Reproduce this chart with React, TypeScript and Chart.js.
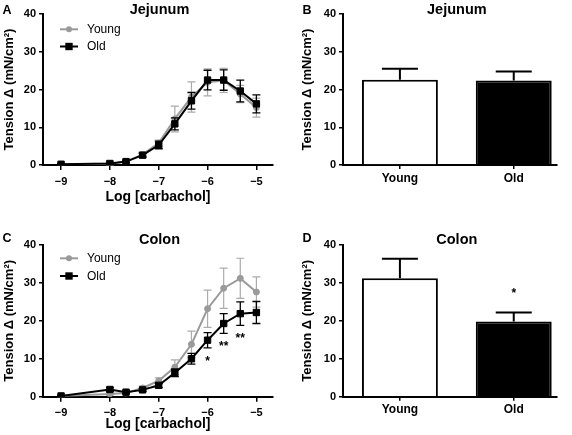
import React, { useEffect, useRef } from "react";
import { Chart, registerables } from "chart.js";
Chart.register(...registerables);

// ---------- data ----------
const logConc = [-9, -8, -7.67, -7.33, -7, -6.67, -6.33, -6, -5.67, -5.33, -5];
const xTicks = [-9, -8, -7, -6, -5];
const yTicks = [0, 10, 20, 30, 40];
const seriesNames = ["Young", "Old"];

const jejYoung = [0.2, 0.3, 0.9, 2.8, 5.8, 12.2, 18.0, 21.9, 22.4, 18.8, 15.2];
const jejYoungErr = [0.2, 0.3, 0.3, 0.6, 0.8, 3.4, 4.0, 3.6, 3.2, 2.3, 2.5];
const jejOld = [0.2, 0.4, 0.9, 2.6, 5.3, 10.9, 17.0, 22.5, 22.5, 19.6, 16.2];
const jejOldErr = [0.2, 0.3, 0.3, 0.5, 1.0, 1.6, 2.2, 2.6, 2.7, 2.9, 2.4];

const colYoung = [0.2, 0.7, 1.0, 2.3, 4.2, 7.8, 13.8, 23.2, 28.6, 31.2, 27.6];
const colYoungErr = [0.2, 0.3, 0.3, 0.5, 0.8, 1.9, 3.5, 4.9, 5.3, 5.3, 4.0];
const colOld = [0.2, 1.9, 1.2, 1.8, 3.0, 6.3, 10.0, 14.9, 19.3, 21.9, 22.2];
const colOldErr = [0.2, 0.5, 0.3, 0.4, 0.6, 1.0, 1.4, 2.0, 2.6, 3.1, 2.9];
const colSig = ["", "", "", "", "", "", "", "*", "**", "**", ""];

const barGroups = ["Young", "Old"];
const jejBar = [22.6, 22.4];
const jejBarErr = [2.9, 2.4];
const colBar = [31.2, 19.8];
const colBarErr = [5.2, 2.4];
const colBarSig = ["", "*"];

// ---------- styling ----------
const FONT = "'Liberation Sans', Arial, Helvetica, sans-serif";
const GREY = "#9a9a9a";
const GREY_ERR = "#ababab";
const Y_TITLE = "Tension \u0394 (mN/cm\u00B2)";

const fmtNum = (v: number) => (v < 0 ? "\u2212" + Math.abs(v) : String(v));

const decoPlugin: any = {
  id: "deco",
  beforeDatasetDraw(chart: any, args: any) {
    const ds: any = chart.data.datasets[args.index];
    if (!ds.errors) return;
    const ctx = chart.ctx;
    const ys = chart.scales.y;
    ctx.save();
    ctx.strokeStyle = ds.errColor;
    ctx.lineWidth = ds.errWidth;
    args.meta.data.forEach((el: any, i: number) => {
      const d = ds.data[i];
      const v = typeof d === "number" ? d : d.y;
      const e = ds.errors[i];
      const yTop = ys.getPixelForValue(v + e);
      const yBot = ys.getPixelForValue(ds.errUpOnly ? v : v - e);
      const x = el.x;
      const c = ds.errCap;
      ctx.beginPath();
      ctx.moveTo(x, yTop);
      ctx.lineTo(x, yBot);
      ctx.moveTo(x - c, yTop);
      ctx.lineTo(x + c, yTop);
      if (!ds.errUpOnly) {
        ctx.moveTo(x - c, yBot);
        ctx.lineTo(x + c, yBot);
      }
      ctx.stroke();
    });
    ctx.restore();
  },
  afterDatasetsDraw(chart: any, _a: any, opts: any) {
    const sig = opts.sig;
    if (!sig) return;
    const ctx = chart.ctx;
    const ds: any = chart.data.datasets[sig.dataset];
    const meta = chart.getDatasetMeta(sig.dataset);
    const ys = chart.scales.y;
    ctx.save();
    ctx.fillStyle = "#000";
    ctx.font = `bold 12px ${FONT}`;
    ctx.textAlign = "center";
    ctx.textBaseline = "alphabetic";
    sig.labels.forEach((lab: string, i: number) => {
      if (!lab) return;
      const d = ds.data[i];
      const v = typeof d === "number" ? d : d.y;
      const e = ds.errors[i];
      const el = meta.data[i];
      const y = sig.below
        ? ys.getPixelForValue(v - e) + sig.offset
        : ys.getPixelForValue(v + e) - sig.offset;
      ctx.fillText(lab, el.x, y);
    });
    ctx.restore();
  },
  afterDraw(chart: any, _a: any, opts: any) {
    const ctx = chart.ctx;
    ctx.save();
    ctx.fillStyle = "#000";
    ctx.textBaseline = "alphabetic";
    // panel letter
    ctx.font = `bold 12.5px ${FONT}`;
    ctx.textAlign = "left";
    ctx.fillText(opts.letter, opts.letterX, opts.letterY);
    // title
    ctx.font = `bold 14.5px ${FONT}`;
    ctx.textAlign = "center";
    const tx =
      opts.titleAt == null
        ? opts.titleX
        : chart.scales.x.getPixelForValue(opts.titleAt);
    ctx.fillText(opts.title, tx, opts.titleY);
    // legend
    if (opts.legend) {
      const L = opts.legend;
      chart.data.datasets.forEach((ds: any, i: number) => {
        const y = L.ys[i];
        ctx.strokeStyle = ds.borderColor;
        ctx.lineWidth = ds.borderWidth;
        ctx.beginPath();
        ctx.moveTo(L.x0, y);
        ctx.lineTo(L.x1, y);
        ctx.stroke();
        const mx = (L.x0 + L.x1) / 2;
        ctx.fillStyle = ds.backgroundColor;
        if (ds.pointStyle === "rect") {
          const s = ds.pointRadius * Math.SQRT1_2 + 0.5;
          ctx.fillRect(mx - s, y - s, 2 * s, 2 * s);
        } else {
          ctx.beginPath();
          ctx.arc(mx, y, ds.pointRadius, 0, Math.PI * 2);
          ctx.fill();
        }
        ctx.fillStyle = "#000";
        ctx.font = `12px ${FONT}`;
        ctx.textAlign = "left";
        ctx.textBaseline = "middle";
        ctx.fillText(ds.label, L.textX, y + 0.5);
        ctx.textBaseline = "alphabetic";
      });
    }
    ctx.restore();
  },
};

type Area = { l: number; t: number; r: number; b: number };

function yScale(area: Area, titlePad: number) {
  return {
    type: "linear",
    min: 0,
    max: 40,
    afterBuildTicks: (s: any) => {
      s.ticks = yTicks.map((v) => ({ value: v }));
    },
    afterFit: (s: any) => {
      s.width = area.l;
    },
    ticks: {
      color: "#000",
      font: { family: FONT, size: 11, weight: "bold" },
      padding: 3,
      callback: (v: any) => fmtNum(Number(v)),
    },
    grid: { drawOnChartArea: false, drawTicks: true, tickLength: 4, color: "#000", lineWidth: 1.5 },
    border: { color: "#000", width: 2 },
    title: {
      display: true,
      text: Y_TITLE,
      color: "#000",
      font: { family: FONT, size: 13, weight: "bold" },
      padding: { top: titlePad, bottom: 0 },
    },
  };
}

function lineConfig(
  H: number,
  W: number,
  area: Area,
  young: number[],
  youngErr: number[],
  old: number[],
  oldErr: number[],
  deco: any,
  xTitlePad: number
): any {
  return {
    type: "line",
    data: {
      datasets: [
        {
          label: seriesNames[0],
          data: logConc.map((x, i) => ({ x, y: young[i] })),
          borderColor: GREY,
          backgroundColor: GREY,
          pointBackgroundColor: GREY,
          pointBorderColor: GREY,
          pointStyle: "circle",
          pointRadius: 3,
          pointBorderWidth: 1,
          borderWidth: 2,
          order: 1,
          errors: youngErr,
          errColor: GREY_ERR,
          errWidth: 1.2,
          errCap: 4,
        },
        {
          label: seriesNames[1],
          data: logConc.map((x, i) => ({ x, y: old[i] })),
          borderColor: "#000",
          backgroundColor: "#000",
          pointBackgroundColor: "#000",
          pointBorderColor: "#000",
          pointStyle: "rect",
          pointRadius: 4.5,
          pointBorderWidth: 1,
          borderWidth: 2,
          order: 0,
          errors: oldErr,
          errColor: "#000",
          errWidth: 1.3,
          errCap: 4,
        },
      ],
    },
    options: {
      animation: false,
      responsive: false,
      events: [],
      layout: { padding: { left: 0, top: area.t, right: W - area.r, bottom: 0 } },
      plugins: { legend: { display: false }, tooltip: { enabled: false }, deco },
      scales: {
        x: {
          type: "linear",
          min: -9.37,
          max: -4.66,
          afterBuildTicks: (s: any) => {
            s.ticks = xTicks.map((v) => ({ value: v }));
          },
          afterFit: (s: any) => {
            s.height = H - area.b;
          },
          ticks: {
            color: "#000",
            font: { family: FONT, size: 11, weight: "bold" },
            padding: 5,
            maxRotation: 0,
            autoSkip: false,
            callback: (v: any) => fmtNum(Number(v)),
          },
          grid: { drawOnChartArea: false, drawTicks: true, tickLength: 5, color: "#000", lineWidth: 1.5 },
          border: { color: "#000", width: 2 },
          title: {
            display: true,
            text: "Log [carbachol]",
            color: "#000",
            font: { family: FONT, size: 14, weight: "bold" },
            padding: { top: 0, bottom: xTitlePad },
          },
        },
        y: yScale(area, 1.5),
      },
    },
  };
}

function barConfig(H: number, W: number, area: Area, vals: number[], errs: number[], deco: any): any {
  return {
    type: "bar",
    data: {
      datasets: [
        {
          label: "bars",
          data: vals.map((y, i) => ({ x: i, y })),
          backgroundColor: ["#ffffff", "#000000"],
          borderColor: "#000",
          borderWidth: 2,
          borderSkipped: "bottom",
          categoryPercentage: 1,
          barPercentage: 0.667,
          errors: errs,
          errUpOnly: true,
          errColor: "#000",
          errWidth: 2,
          errCap: 18,
        },
      ],
    },
    options: {
      animation: false,
      responsive: false,
      events: [],
      layout: { padding: { left: 0, top: area.t, right: W - area.r, bottom: 0 } },
      plugins: { legend: { display: false }, tooltip: { enabled: false }, deco },
      scales: {
        x: {
          type: "linear",
          min: -0.5,
          max: 1.38,
          offset: false,
          afterBuildTicks: (s: any) => {
            s.ticks = barGroups.map((_, i) => ({ value: i }));
          },
          afterFit: (s: any) => {
            s.height = H - area.b;
          },
          ticks: {
            color: "#000",
            font: { family: FONT, size: 12, weight: "bold" },
            padding: 2,
            maxRotation: 0,
            autoSkip: false,
            callback: (v: any) => barGroups[Math.round(Number(v))] ?? "",
          },
          grid: { offset: false, drawOnChartArea: false, drawTicks: true, tickLength: 4, color: "#000", lineWidth: 1.5 },
          border: { color: "#000", width: 2 },
        },
        y: yScale(area, 10),
      },
    },
  };
}

function Panel({ left, top, w, h, config }: { left: number; top: number; w: number; h: number; config: any }) {
  const ref = useRef<HTMLCanvasElement>(null);
  useEffect(() => {
    if (!ref.current) return;
    const chart = new Chart(ref.current, { ...config, plugins: [decoPlugin] });
    return () => chart.destroy();
  }, []);
  return (
    <canvas
      ref={ref}
      width={w}
      height={h}
      style={{ position: "absolute", left, top, width: w, height: h }}
    />
  );
}

export default function App() {
  const areaA: Area = { l: 43, t: 14, r: 273, b: 165 };
  const areaC: Area = { l: 43, t: 30, r: 273, b: 181.7 };
  const areaB: Area = { l: 53, t: 14, r: 267, b: 165 };
  const areaD: Area = { l: 53, t: 30, r: 267, b: 181.7 };

  const cfgA = lineConfig(215, 290, areaA, jejYoung, jejYoungErr, jejOld, jejOldErr, {
    letter: "A",
    letterX: 2.5,
    letterY: 13.5,
    title: "Jejunum",
    titleAt: null,
    titleX: 159.5,
    titleY: 13.5,
    legend: { x0: 60, x1: 78, textX: 87, ys: [29.3, 46.5] },
  }, 9.5);
  const cfgC = lineConfig(220, 290, areaC, colYoung, colYoungErr, colOld, colOldErr, {
    letter: "C",
    letterX: 2.5,
    letterY: 27,
    title: "Colon",
    titleAt: null,
    titleX: 159.5,
    titleY: 29,
    legend: { x0: 60, x1: 78, textX: 87, ys: [43.3, 61] },
    sig: { dataset: 1, labels: colSig, below: true, offset: 17 },
  }, 2.5);
  const cfgB = barConfig(215, 282, areaB, jejBar, jejBarErr, {
    letter: "B",
    letterX: 12.5,
    letterY: 13.5,
    title: "Jejunum",
    titleAt: 0.5,
    titleY: 13.5,
  });
  const cfgD = barConfig(220, 282, areaD, colBar, colBarErr, {
    letter: "D",
    letterX: 12.5,
    letterY: 27,
    title: "Colon",
    titleAt: 0.5,
    titleY: 29,
    sig: { dataset: 0, labels: colBarSig, below: false, offset: 16 },
  });

  return (
    <div style={{ position: "absolute", left: 0, top: 0, width: 572, height: 435, background: "#fff" }}>
      <Panel left={0} top={0} w={290} h={215} config={cfgA} />
      <Panel left={290} top={0} w={282} h={215} config={cfgB} />
      <Panel left={0} top={215} w={290} h={220} config={cfgC} />
      <Panel left={290} top={215} w={282} h={220} config={cfgD} />
    </div>
  );
}
